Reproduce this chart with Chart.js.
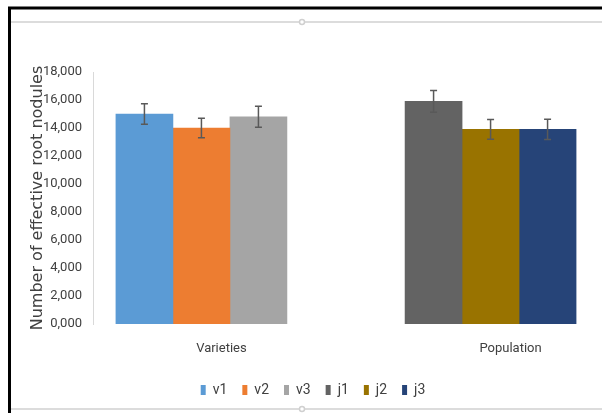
<!DOCTYPE html>
<html>
<head>
<meta charset="utf-8">
<script src="https://cdn.jsdelivr.net/npm/chart.js@4.4.1/dist/chart.umd.min.js"></script>
<style>
  html, body { margin: 0; padding: 0; background: #fff; overflow: hidden; }
  canvas { display: block; }
</style>
</head>
<body>
<canvas id="chart" width="602" height="413"></canvas>
<script>
// category slots along the x axis (empty slots keep the two groups apart)
const categories = ['', 'Varieties', '', '', '', 'Population', ''];
const seriesNames = ['v1', 'v2', 'v3', 'j1', 'j2', 'j3'];
const seriesGroup = ['Varieties', 'Varieties', 'Varieties', 'Population', 'Population', 'Population'];
const meanValues = [15000, 14000, 14800, 15900, 13900, 13900];
const errorValues = [740, 700, 750, 780, 710, 730];
const seriesColors = ['#5b9bd5', '#ed7d31', '#a5a5a5', '#636363', '#997300', '#264478'];
const yTickLabels = ['0,000', '2,000', '4,000', '6,000', '8,000', '10,000', '12,000', '14,000', '16,000', '18,000'];

const NARROW = "Roboto, 'DejaVu Sans Condensed', sans-serif";
const TEXT = '#404040';

const datasets = seriesNames.map(function (name, i) {
    return {
        label: name,
        data: categories.map(c => (c === seriesGroup[i] ? meanValues[i] : null)),
        errors: errorValues[i],
        backgroundColor: seriesColors[i],
        borderWidth: 0,
        barThickness: 57,
        skipNull: true,
    };
});

// frame lines round the picture
const framePlugin = {
    id: 'frame',
    beforeDraw(chart) {
        const c = chart.ctx;
        c.save();
        c.fillStyle = '#fff';
        c.fillRect(0, 0, chart.width, chart.height);
        c.strokeStyle = '#d0d0d0';
        c.lineWidth = 1.5;
        [22, 409].forEach(function (y) {
            c.beginPath();
            c.moveTo(11, y);
            c.lineTo(chart.width, y);
            c.stroke();
            c.beginPath();
            c.arc(302, y, 2.5, 0, Math.PI * 2);
            c.fillStyle = '#fff';
            c.fill();
            c.stroke();
        });
        c.strokeStyle = '#000';
        c.lineWidth = 3;
        c.beginPath();
        c.moveTo(9.5, chart.height);
        c.lineTo(9.5, 8);
        c.lineTo(chart.width, 8);
        c.stroke();
        c.restore();
    }
};

// error bars drawn through the y scale
const errorBarPlugin = {
    id: 'errorBars',
    afterDatasetsDraw(chart) {
        const c = chart.ctx;
        const y = chart.scales.y;
        c.save();
        c.strokeStyle = '#595959';
        c.lineWidth = 1.5;
        chart.data.datasets.forEach(function (ds, di) {
            const meta = chart.getDatasetMeta(di);
            meta.data.forEach(function (bar, idx) {
                const v = ds.data[idx];
                if (v === null) return;
                const top = y.getPixelForValue(v + ds.errors);
                const bot = y.getPixelForValue(v - ds.errors);
                c.beginPath();
                c.moveTo(bar.x, top);
                c.lineTo(bar.x, bot);
                c.moveTo(bar.x - 3.5, top);
                c.lineTo(bar.x + 3.5, top);
                c.moveTo(bar.x - 3.5, bot);
                c.lineTo(bar.x + 3.5, bot);
                c.stroke();
            });
        });
        c.restore();
    }
};

const chart = new Chart(document.getElementById('chart'), {
    type: 'bar',
    data: { labels: categories, datasets: datasets },
    plugins: [framePlugin, errorBarPlugin],
    options: {
        responsive: false,
        animation: false,
        devicePixelRatio: 1,
        layout: { padding: { left: 27, top: 72, right: 3, bottom: 6 } },
        scales: {
            x: {
                grid: { display: false, drawTicks: false },
                border: { display: false },
                afterFit: s => { s.height = 44; },
                ticks: {
                    color: TEXT,
                    font: { family: NARROW, size: 13 },
                    padding: 17,
                    labelOffset: 20,
                    autoSkip: false,
                    maxRotation: 0,
                },
            },
            y: {
                min: 0,
                max: 18000,
                afterFit: s => { s.width = 66; },
                grid: { display: false, drawTicks: false },
                border: { display: true, color: '#d9d9d9', width: 1 },
                ticks: {
                    stepSize: 2000,
                    color: TEXT,
                    font: { family: NARROW, size: 13 },
                    padding: 11,
                    callback: (v, i) => yTickLabels[i],
                },
                title: {
                    display: true,
                    text: 'Number of effective root nodules',
                    color: TEXT,
                    font: { family: "'DejaVu Sans', sans-serif", size: 16 },
                    padding: { top: 1, bottom: 0 },
                },
            },
        },
        plugins: {
            tooltip: { enabled: false },
            legend: {
                position: 'bottom',
                labels: {
                    boxWidth: 5,
                    boxHeight: 10,
                    padding: 15,
                    color: TEXT,
                    font: { family: NARROW, size: 14 },
                },
            },
        },
    },
});
</script>
</body>
</html>
